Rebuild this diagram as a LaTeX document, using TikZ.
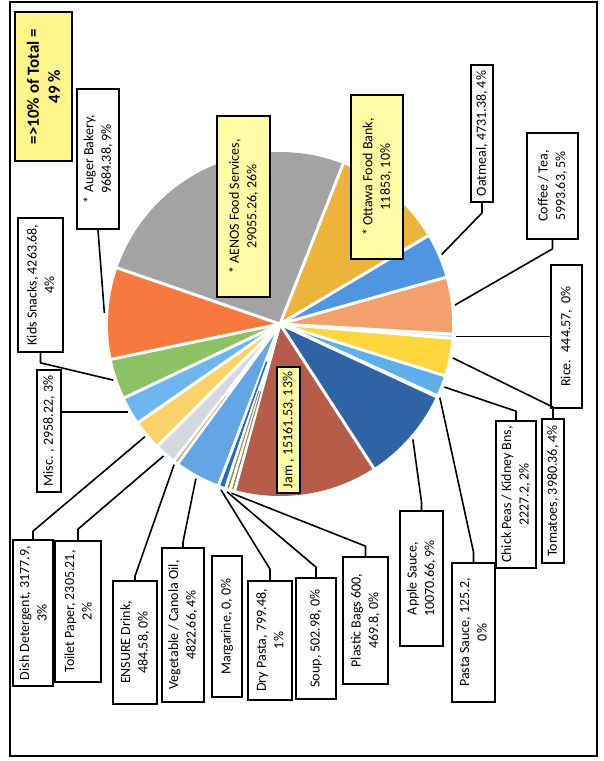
\documentclass[tikz,border=0pt]{standalone}
\usepackage{fontspec}
\setmainfont{Carlito}
\usetikzlibrary{calc}
\definecolor{cOtt}{HTML}{EDB43C}
\definecolor{cOat}{HTML}{4F95DF}
\definecolor{cCof}{HTML}{F4A06C}
\definecolor{cRice}{HTML}{D8D8D8}
\definecolor{cTom}{HTML}{FFD63C}
\definecolor{cChk}{HTML}{5EAEE9}
\definecolor{cPas}{HTML}{9E6A3A}
\definecolor{cApp}{HTML}{2E64A6}
\definecolor{cJam}{HTML}{B85C4A}
\definecolor{cPla}{HTML}{8C8C70}
\definecolor{cSoup}{HTML}{B08A3A}
\definecolor{cDry}{HTML}{1E6CCB}
\definecolor{cVeg}{HTML}{64A5E6}
\definecolor{cEns}{HTML}{E4907A}
\definecolor{cToi}{HTML}{D6D9DC}
\definecolor{cDish}{HTML}{F9D36A}
\definecolor{cMisc}{HTML}{6DB5EE}
\definecolor{cKids}{HTML}{8CC263}
\definecolor{cAug}{HTML}{F7793E}
\definecolor{cAen}{HTML}{A3A3A3}
\definecolor{hiYel}{HTML}{FFFBA6}
\definecolor{sumYel}{HTML}{FFF58A}
\begin{document}
\begin{tikzpicture}[x=1pt,y=-1pt,
  lbl/.style={draw, line width=1.7pt, fill=white, rotate=90, inner sep=1pt,
    align=center, font=\fontsize{14}{17.5}\selectfont},
  hilbl/.style={lbl, fill=hiYel},
  leader/.style={draw, line width=1.6pt, line join=round},
  sep/.style={draw=white, line width=3pt}]
\useasboundingbox (0,0) rectangle (604,761);
\draw[line width=1.5pt] (10,2) rectangle (597,756);

% ---------------- pie ----------------
\begin{scope}[shift={(280,324)}, y=1pt]
  \foreach \a/\b/\c in {68.5/30.78/cOtt, 30.78/15.72/cOat, 15.72/-3.36/cCof,
      -3.36/-4.77/cRice, -4.77/-17.44/cTom, -17.44/-24.53/cChk, -24.53/-24.93/cPas,
      -24.93/-56.98/cApp, -56.98/-105.23/cJam, -105.23/-106.73/cPla,
      -106.73/-108.33/cSoup, -108.33/-110.87/cDry, -110.87/-126.22/cVeg,
      -126.22/-127.76/cEns, -127.76/-135.10/cToi, -135.10/-145.21/cDish,
      -145.21/-154.62/cMisc, -154.62/-168.19/cKids, -168.19/-199.01/cAug,
      -199.01/-291.5/cAen}
    \fill[\c] (0,0) -- (\a:172) arc[start angle=\a, end angle=\b, radius=172] -- cycle;
  \foreach \a in {68.5, 30.78, 15.72, -3.36, -4.77, -17.44, -24.53, -24.93, -56.98,
      -105.23, -106.73, -108.33, -110.87, -126.22, -127.76, -135.10, -145.21,
      -154.62, -168.19, -199.01}
    \draw[sep] (0,0) -- (\a:176);
  % very thin slices
  \draw[cPla, line width=1pt] (-105.98:70) -- (-105.98:171);
  \draw[cSoup, line width=1pt] (-107.53:70) -- (-107.53:171);
  \draw[cDry, line width=1.6pt] (-109.6:40) -- (-109.6:171);
  \draw[cEns, line width=0.6pt] (-126.99:90) -- (-126.99:171);
  % leader end points on the rim
  \coordinate (p-oat) at (23.25:176);
  \coordinate (p-cof) at (6.18:176);
  \coordinate (p-rice) at (-4.07:176);
  \coordinate (p-tom) at (-11.1:176);
  \coordinate (p-chk) at (-21.0:176);
  \coordinate (p-pas) at (-24.73:176);
  \coordinate (p-app) at (-40.96:176);
  \coordinate (p-pla) at (-105.98:176);
  \coordinate (p-soup) at (-107.53:176);
  \coordinate (p-dry) at (-109.6:176);
  \coordinate (p-veg) at (-118.55:176);
  \coordinate (p-ens) at (-126.99:176);
  \coordinate (p-toi) at (-131.43:176);
  \coordinate (p-dish) at (-140.16:176);
  \coordinate (p-misc) at (-149.92:176);
  \coordinate (p-kids) at (-161.41:176);
  \coordinate (p-aug) at (-183.6:176);
\end{scope}

% ---------------- labels ----------------
\node[lbl, fill=sumYel, line width=2pt, minimum width=149, minimum height=57,
  font=\fontsize{17}{21}\selectfont\bfseries] (sum) at (43.5,86.5) {=>10\% of Total =\\49 \%};
\node[lbl, minimum width=140, minimum height=42] (aug) at (98,159) {* Auger Bakery,\\9684.38, 9\%};
\node[hilbl, minimum width=181, minimum height=53] (aen) at (243.5,206.5) {* AENOS Food Services,\\29055.26, 26\%};
\node[hilbl, minimum width=164, minimum height=52] (ott) at (377,177) {* Ottawa Food Bank,\\11853, 10\%};
\node[lbl, minimum width=137, minimum height=22] (oat) at (482,133.5) {Oatmeal, 4731.38, 4\%};
\node[lbl, minimum width=106, minimum height=51] (cof) at (552.5,186) {Coffee / Tea,\\5993.63, 5\%};
\node[lbl, minimum width=143, minimum height=31] (rice) at (566.5,336.5) {Rice.~ 444.57,~ 0\%};
\node[lbl, minimum width=144, minimum height=22] (tom) at (553,491) {Tomatoes, 3980.36, 4\%};
\node[lbl, minimum width=147, minimum height=40] (chk) at (516,494.5) {Chick Peas / Kidney Bns,\\2227.2, 2\%};
\node[lbl, minimum width=139, minimum height=43] (pas) at (473.5,632.5) {Pasta Sauce, 125.2,\\0\%};
\node[lbl, minimum width=135, minimum height=43] (app) at (421.5,578.5) {Apple Sauce,\\10070.66, 9\%};
\node[lbl, minimum width=127, minimum height=45] (pla) at (365.5,620.5) {Plastic Bags 600,\\469.8, 0\%};
\node[lbl, minimum width=121, minimum height=40] (soup) at (316,638.5) {Soup, 502.98, 0\%};
\node[lbl, minimum width=119, minimum height=44] (dry) at (270,640.5) {Dry Pasta, 799.48,\\1\%};
\node[lbl, minimum width=141, minimum height=30] (marg) at (227,626.5) {Margarine, 0, 0\%};
\node[lbl, minimum width=154, minimum height=42] (veg) at (183,625) {Vegetable / Canola Oil,\\4822.66, 4\%};
\node[lbl, minimum width=123, minimum height=44] (ens) at (135,642.5) {ENSURE Drink,\\484.58, 0\%};
\node[lbl, minimum width=141, minimum height=46] (toi) at (78,611.5) {Toilet Paper, 2305.21,\\2\%};
\node[lbl, minimum width=146, minimum height=40] (dish) at (33,613) {Dish Detergent, 3177.9,\\3\%};
\node[lbl, minimum width=122, minimum height=24] (misc) at (49,431) {Misc. , 2958.22, 3\%};
\node[lbl, minimum width=134, minimum height=45] (kids) at (40.5,285) {Kids Snacks, 4263.68,\\4\%};
\node[hilbl, minimum width=126, minimum height=23] (jam) at (288.5,430) {Jam , 15161.53, 13\%};

% ---------------- leaders ----------------
\draw[leader] (oat.west) -- ++(0,10) -- (p-oat);
\draw[leader] (cof.west) -- ++(0,9) -- (p-cof);
\draw[leader] (rice.north |- p-rice) -- (p-rice);
\draw[leader] (tom.east) -- ++(0,-11) -- (p-tom);
\draw[leader] (chk.east) -- ++(0,-9) -- (p-chk);
\draw[leader] (pas.east) -- ++(0,-10) -- (p-pas);
\draw[leader] (app.east) -- ++(0,-8) -- (p-app);
\draw[leader] (pla.east) -- ++(0,-10) -- (p-pla);
\draw[leader] (soup.east) -- ++(0,-10) -- (p-soup);
\draw[leader] (dry.east) -- ++(0,-11) -- (p-dry);
\draw[leader] (veg.east) -- ++(0,-5) -- (p-veg);
\draw[leader] (ens.east) -- ++(0,-4) -- (p-ens);
\draw[leader] (toi.east) -- ++(0,-11) -- (p-toi);
\draw[leader] (dish.east) -- ++(0,-8) -- (p-dish);
\draw[leader] (misc.south east |- p-misc) -- (p-misc);
\draw[leader] (kids.west) -- ++(0,10) -- (p-kids);
\draw[leader] (aug.west) -- (p-aug);
\end{tikzpicture}
\end{document}
